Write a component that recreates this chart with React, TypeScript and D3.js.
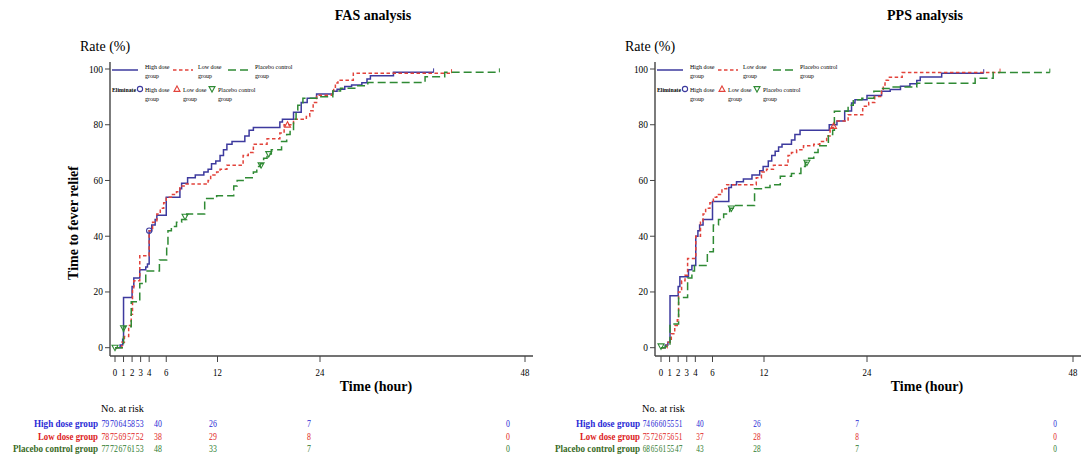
import React from "react";
import * as d3 from "d3";

type Pt = [number, number];

// tick values and labels
const TICKS_X = [0, 1, 2, 3, 4, 6, 12, 24, 48];
const TICKS_Y = [0, 20, 40, 60, 80, 100];
const RISK_TIMES = [0, 1, 2, 3, 4, 6, 12, 24, 48];
const GROUPS = ["High dose group", "Low dose group", "Placebo control group"];
const LEGEND_NAMES = [["High dose", "group"], ["Low dose", "group"], ["Placebo control", "group"]];

// FAS curves: [hour, rate %], step after
const FAS_HIGH: Pt[] = [
  [0, 0], [0.6, 1], [0.9, 3], [1, 18], [2, 22], [2.2, 25], [2.9, 28], [3.6, 29], [3.8, 30], [4, 42],
  [4.3, 44], [4.7, 46], [4.9, 47.5], [6, 54], [7.6, 57], [7.8, 59], [8.5, 61], [9.4, 62], [10.4, 63],
  [10.9, 64], [11.3, 66], [11.8, 67], [12.3, 69], [12.7, 71], [13.1, 73], [13.7, 74], [15.2, 76],
  [15.7, 78], [16.2, 79], [19.3, 81], [19.6, 82], [20.9, 84.5], [21.8, 88], [22.5, 89.5], [23.6, 91],
  [25.5, 92], [26, 92.7], [26.9, 93.7], [27.7, 94.3], [28.9, 95.1], [29.5, 96.4], [29.9, 97.6],
  [32.6, 98.8], [37.3, 98.8],
];
const FAS_LOW: Pt[] = [
  [0, 0], [0.8, 2], [1.1, 4], [1.6, 8], [1.9, 12], [2.05, 21], [2.2, 24], [2.9, 33], [4, 42], [4.4, 45],
  [4.9, 48], [5.3, 50], [5.7, 52], [6, 54], [6.6, 55], [7.2, 56], [7.6, 58], [8.2, 58.7], [10.9, 60],
  [11.2, 62], [11.9, 63], [12.3, 64], [13.1, 65.5], [15, 69], [15.6, 70], [16.2, 73], [17.8, 75],
  [19.3, 77], [19.8, 80], [20.9, 82], [22.4, 83], [22.8, 85], [23.2, 88], [23.6, 90.6], [25.4, 92],
  [25.6, 93], [25.8, 95], [26.1, 96], [27.9, 98.5], [39.4, 98.5],
];
const FAS_PLACEBO: Pt[] = [
  [0, 0], [1, 7.5], [1.9, 16.5], [2.9, 23], [3.6, 27.5], [5.2, 31.5], [6.05, 36], [6.2, 42], [6.6, 43.5],
  [7.2, 45], [7.8, 46], [8.4, 48], [10.5, 53.5], [11.9, 54.5], [13.9, 58], [14.3, 60], [15, 61],
  [16.2, 63], [16.6, 65], [17, 66], [17.4, 68], [17.8, 69.5], [18.3, 71], [19.5, 74], [20.1, 76.5],
  [20.5, 78], [20.9, 82], [21.2, 85.3], [21.4, 87], [22, 89.5], [24.1, 90], [25.5, 92.1], [26.4, 93.1],
  [28.3, 94], [29.6, 95.2], [36.3, 97.2], [38.6, 98.8], [45, 98.8],
];

// PPS curves
const PPS_HIGH: Pt[] = [
  [0, 0], [0.5, 1], [0.8, 2], [1.05, 18.6], [2, 22], [2.2, 25.5], [3.2, 28], [3.6, 29.5], [4.05, 40],
  [4.3, 42], [4.5, 44], [4.9, 46], [6, 52.5], [7.9, 57.5], [8.2, 58.5], [8.8, 59.5], [9.6, 60.5],
  [10.6, 62], [11.5, 63.5], [11.9, 65], [12.5, 67], [12.9, 69], [13.3, 70.5], [13.7, 72], [14.1, 73],
  [15.2, 74.5], [15.6, 76.5], [16.2, 78], [19.6, 80], [20.5, 81.3], [21.4, 84.9], [22.2, 87.8],
  [22.6, 89], [24, 90.5], [25.7, 92], [26.7, 92.6], [27.9, 93.8], [29, 94.7], [29.8, 95.9], [30.2, 97.1],
  [32.7, 98.5], [37.6, 98.5],
];
const PPS_LOW: Pt[] = [
  [0, 0], [0.7, 2], [1.2, 5], [1.6, 8], [1.9, 10], [2.05, 20], [2.4, 24], [2.8, 26], [3.1, 32], [4.05, 40],
  [4.6, 45], [4.9, 48], [5.2, 50], [5.7, 52], [6.1, 54], [6.5, 55], [7.1, 57], [7.65, 58.5], [11.1, 61],
  [11.7, 63], [12.3, 64], [13.1, 65.5], [14.8, 69], [15.2, 70], [15.8, 71], [16.6, 72.5], [17.8, 73],
  [18.5, 74], [19.3, 76], [19.7, 79], [20.2, 81.3], [21.8, 83.6], [23.5, 86.6], [24.2, 88], [24.9, 90.1],
  [25.7, 92], [25.9, 94.3], [26.1, 96], [26.5, 97], [28.1, 98.7], [39.5, 98.7],
];
const PPS_PLACEBO: Pt[] = [
  [0, 0], [0.5, 0.5], [1.05, 8.5], [2.05, 18], [3.1, 25], [3.6, 27.5], [3.9, 29.5], [5.4, 34.4], [6.1, 44],
  [6.7, 46], [7.3, 48], [8, 50], [8.4, 51], [10.9, 57], [11.9, 57.5], [12.7, 58.5], [13.9, 61.5],
  [15.2, 62.5], [16.3, 65], [16.8, 66.5], [17.2, 68], [17.8, 70], [18.3, 72.5], [19.5, 76.5], [20, 78],
  [20.2, 84.8], [21.8, 87], [22.4, 89], [23.4, 89.5], [24.8, 92], [25.5, 93], [26.7, 93.5], [29.8, 94.9],
  [36.6, 96.7], [38.7, 98.7], [45.3, 98.7],
];

// eliminated (censored) markers
const FAS_ELIM_HIGH: Pt[] = [[4, 42]];
const FAS_ELIM_LOW: Pt[] = [[20.2, 80]];
const FAS_ELIM_PLACEBO: Pt[] = [[0, 0], [1, 7], [8.2, 47], [17.1, 65.5], [18, 69.5]];
const PPS_ELIM_HIGH: Pt[] = [];
const PPS_ELIM_LOW: Pt[] = [[20.1, 79.5]];
const PPS_ELIM_PLACEBO: Pt[] = [[0, 0.5], [8.2, 50], [17, 66.4]];

// number at risk
const FAS_RISK_HIGH = [79, 70, 64, 58, 53, 40, 26, 7, 0];
const FAS_RISK_LOW = [78, 75, 69, 57, 52, 38, 29, 8, 0];
const FAS_RISK_PLACEBO = [77, 72, 67, 61, 53, 48, 33, 7, 0];
const PPS_RISK_HIGH = [74, 66, 60, 55, 51, 40, 26, 7, 0];
const PPS_RISK_LOW = [75, 72, 67, 56, 51, 37, 28, 8, 0];
const PPS_RISK_PLACEBO = [68, 65, 61, 55, 47, 43, 28, 7, 0];

const LINE_COLORS = ["#3d3a9e", "#e2433b", "#2f8a34"];
const DASHES = ["none", "3.5,2.5", "8,4"];
const TEXT_COLORS = ["#2828d4", "#e01c1c", "#2e7a2e"];
const LABEL_COLORS = ["#2a2ad6", "#dc1c1c", "#3a6b1f"];
const LABEL_WIDTHS = [64, 60, 85];
const FONT = "'Liberation Serif', 'Times New Roman', serif";

const PANELS = [
  {
    title: "FAS analysis", titleX: 373, xLabelX: 376, axisX: 110, x0: 115, x48: 525, axisEnd: 533,
    riskRange: [105.3, 139.7, 158, 213, 309, 508], labelRight: 98, yTitle: true,
    curves: [FAS_HIGH, FAS_LOW, FAS_PLACEBO],
    elim: [FAS_ELIM_HIGH, FAS_ELIM_LOW, FAS_ELIM_PLACEBO],
    risk: [FAS_RISK_HIGH, FAS_RISK_LOW, FAS_RISK_PLACEBO],
  },
  {
    title: "PPS analysis", titleX: 925, xLabelX: 927, axisX: 655, x0: 661, x48: 1073, axisEnd: 1081,
    riskRange: [646.3, 678.7, 700, 757, 857, 1055], labelRight: 640, yTitle: false,
    curves: [PPS_HIGH, PPS_LOW, PPS_PLACEBO],
    elim: [PPS_ELIM_HIGH, PPS_ELIM_LOW, PPS_ELIM_PLACEBO],
    risk: [PPS_RISK_HIGH, PPS_RISK_LOW, PPS_RISK_PLACEBO],
  },
];

const y = d3.scaleLinear().domain([0, 100]).range([347.7, 69]);

function Marker({ kind, cx, cy, color }: { kind: number; cx: number; cy: number; color: string }) {
  if (kind === 0) return <circle cx={cx} cy={cy} r={2.6} fill="none" stroke={color} strokeWidth={1.1} />;
  const s = 3;
  const d = kind === 1
    ? `M${cx},${cy - s}L${cx + s},${cy + s * 0.8}L${cx - s},${cy + s * 0.8}Z`
    : `M${cx - s},${cy - s * 0.8}L${cx + s},${cy - s * 0.8}L${cx},${cy + s}Z`;
  return <path d={d} fill="none" stroke={color} strokeWidth={1.1} />;
}

function Panel({ p }: { p: (typeof PANELS)[number] }) {
  const x = d3.scaleLinear().domain([0, 48]).range([p.x0, p.x48]);
  const xr = d3.scaleLinear().domain([0, 4, 6, 12, 24, 48]).range(p.riskRange);
  const line = d3.line<Pt>().x((d) => x(d[0])).y((d) => y(d[1])).curve(d3.curveStepAfter);
  const ax = p.axisX;
  const step = (p.riskRange[1] - p.riskRange[0]) / 4; // spacing of the early at-risk counts
  const legendSample = [[ax + 2, ax + 28], [ax + 63, ax + 83], [ax + 118, ax + 140]];
  const legendText = [ax + 35, ax + 88, ax + 145];
  const elimSym = [ax + 30, ax + 67, ax + 102];
  const elimText = [ax + 35, ax + 73, ax + 108];

  return (
    <g fontFamily={FONT}>
      <text x={p.titleX} y={20} textAnchor="middle" fontSize={14} fontWeight="bold">{p.title}</text>
      <text x={ax - 30} y={51} fontSize={14}>Rate (%)</text>
      {p.yTitle && (
        <text transform={`translate(78,223) rotate(-90)`} textAnchor="middle" fontSize={14} fontWeight="bold">
          Time to fever relief
        </text>
      )}

      {/* axes */}
      <line x1={ax} x2={ax} y1={62} y2={356} stroke="#444" strokeWidth={1.4} />
      <line x1={ax} x2={p.axisEnd} y1={356} y2={356} stroke="#444" strokeWidth={1.4} />
      {TICKS_Y.map((v) => (
        <g key={v}>
          <line x1={ax - 5} x2={ax} y1={y(v)} y2={y(v)} stroke="#444" strokeWidth={1} />
          <text x={ax - 7} y={y(v) + 3.5} textAnchor="end" fontSize={10}
            textLength={String(v).length * 4.7} lengthAdjust="spacingAndGlyphs">{v}</text>
        </g>
      ))}
      {TICKS_X.map((v) => (
        <g key={v}>
          <line x1={x(v)} x2={x(v)} y1={356} y2={362} stroke="#444" strokeWidth={1} />
          <text x={x(v)} y={376} textAnchor="middle" fontSize={10}
            textLength={String(v).length * 4.4} lengthAdjust="spacingAndGlyphs">{v}</text>
        </g>
      ))}
      <text x={p.xLabelX} y={391} textAnchor="middle" fontSize={14} fontWeight="bold">Time (hour)</text>

      {/* legend */}
      <g fontSize={6}>
        {LEGEND_NAMES.map((nm, i) => (
          <g key={i}>
            <line x1={legendSample[i][0]} x2={legendSample[i][1]} y1={70} y2={70}
              stroke={LINE_COLORS[i]} strokeWidth={1.5} strokeDasharray={DASHES[i]} />
            <text x={legendText[i]} y={68.5}>{nm[0]}</text>
            <text x={legendText[i]} y={77.5}>{nm[1]}</text>
            <Marker kind={i} cx={elimSym[i]} cy={89} color={LINE_COLORS[i]} />
            <text x={elimText[i]} y={91.5}>{nm[0]}</text>
            <text x={elimText[i]} y={100.5}>{nm[1]}</text>
          </g>
        ))}
        <text x={ax + 2} y={91.5} fontWeight="bold" fontSize={5.5} textLength={24} lengthAdjust="spacingAndGlyphs">
          Eliminate
        </text>
      </g>

      {/* curves */}
      {p.curves.map((c, i) => {
        const last = c[c.length - 1];
        return (
          <g key={i}>
            <path d={line(c) ?? ""} fill="none" stroke={LINE_COLORS[i]} strokeWidth={1.5}
              strokeDasharray={DASHES[i]} />
            <line x1={x(last[0])} x2={x(last[0])} y1={y(last[1]) - 4} y2={y(last[1])}
              stroke={LINE_COLORS[i]} strokeWidth={1} />
          </g>
        );
      })}
      {p.elim.map((pts, i) =>
        pts.map((d, j) => <Marker key={`${i}-${j}`} kind={i} cx={x(d[0])} cy={y(d[1])} color={LINE_COLORS[i]} />)
      )}

      {/* number at risk */}
      <text x={p.riskRange[0] - 4.3} y={412} fontSize={10.5} textLength={43} lengthAdjust="spacingAndGlyphs">
        No. at risk
      </text>
      {GROUPS.map((g, i) => (
        <g key={g}>
          <text x={p.labelRight} y={427 + i * 12.6} textAnchor="end" fontSize={9.5} fontWeight="bold"
            fill={LABEL_COLORS[i]} textLength={LABEL_WIDTHS[i]} lengthAdjust="spacingAndGlyphs">{g}</text>
          {p.risk[i].map((n, j) => (
            <text key={j} x={xr(RISK_TIMES[j])} y={427 + i * 12.6} textAnchor="middle" fontSize={10}
              fill={TEXT_COLORS[i]} textLength={String(n).length * (step - 0.8) / 2}
              lengthAdjust="spacingAndGlyphs">
              {n}
            </text>
          ))}
        </g>
      ))}
    </g>
  );
}

export default function App() {
  return (
    <svg width={1081} height={458} style={{ position: "absolute", left: 0, top: 0, background: "#fff" }}>
      <rect width={1081} height={458} fill="#fff" />
      {PANELS.map((p) => (
        <Panel key={p.title} p={p} />
      ))}
    </svg>
  );
}
